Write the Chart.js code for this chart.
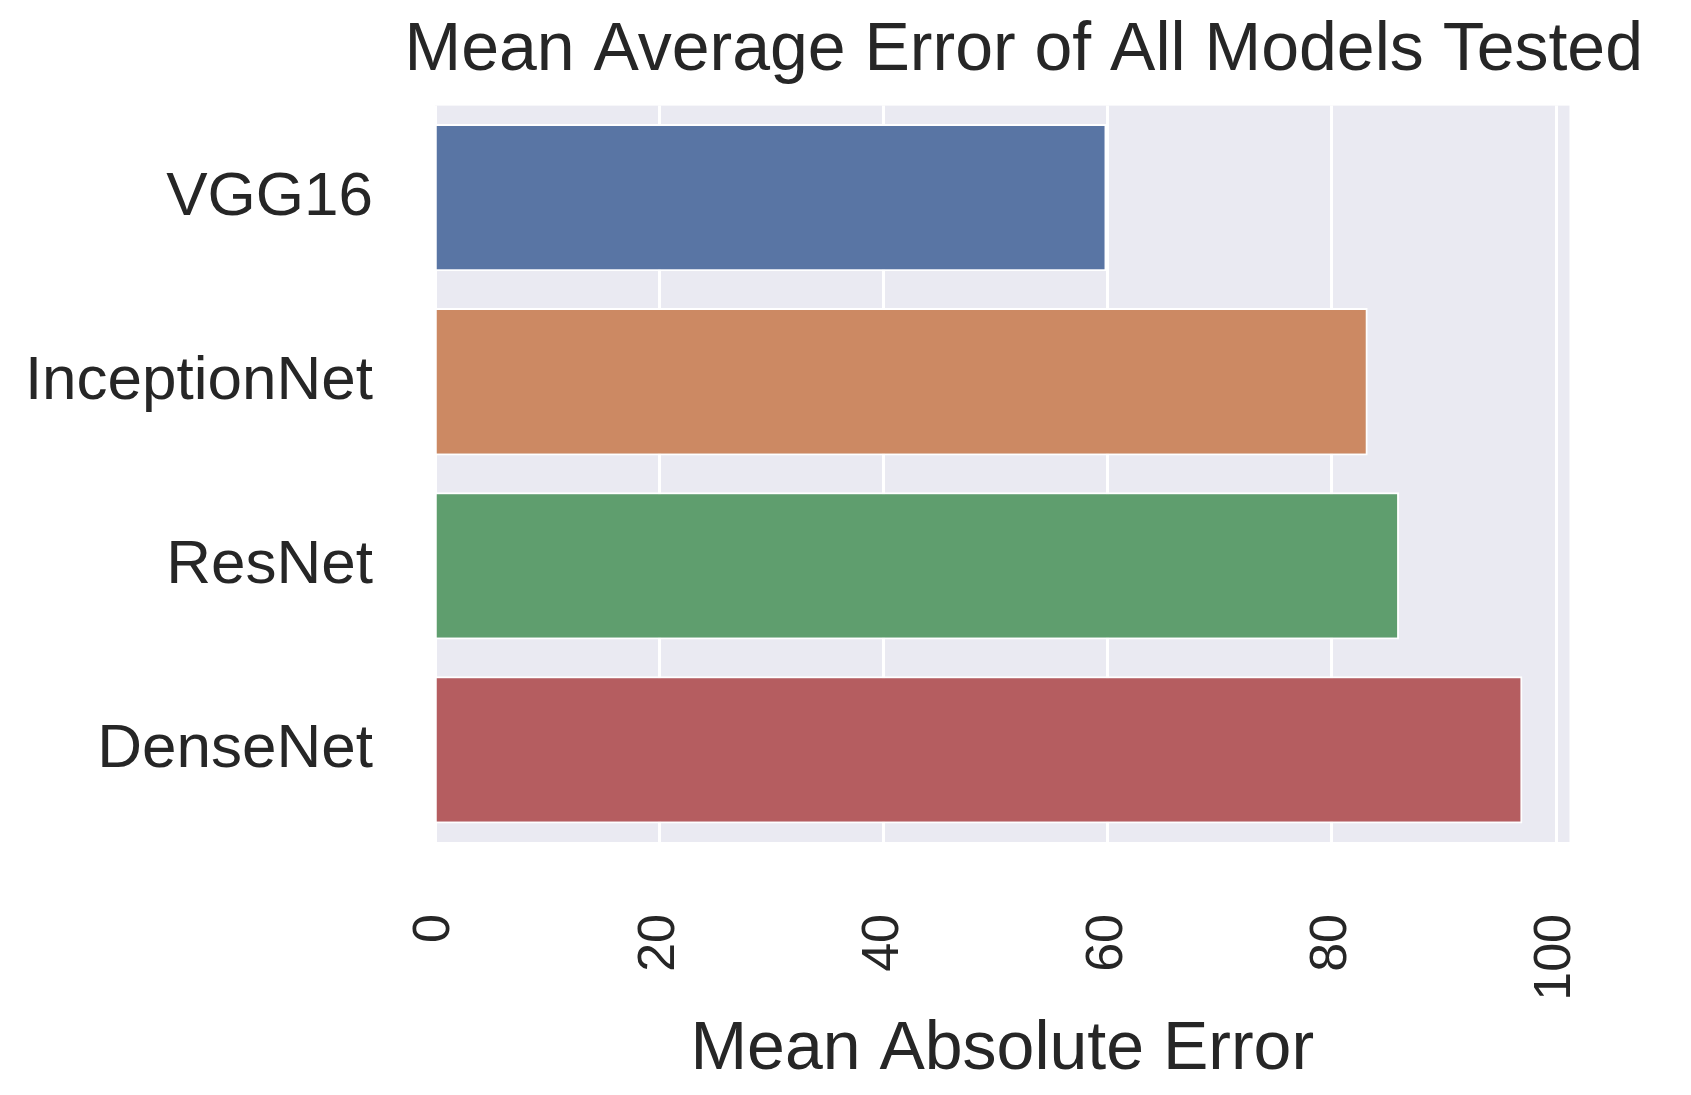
<!DOCTYPE html>
<html>
<head>
<meta charset="utf-8">
<script src="https://cdn.jsdelivr.net/npm/chart.js@4"></script>
<style>
  html, body { margin: 0; padding: 0; background: #fff; }
  #wrap { width: 1691px; height: 1095px; }
</style>
</head>
<body>
<div id="wrap"><canvas id="c"></canvas></div>
<script>
// models and their mean absolute error
const models = ["VGG16", "InceptionNet", "ResNet", "DenseNet"];
const maeValues = [59.9, 83.2, 86.0, 97.0];
const barColors = ["#5975A4", "#CC8963", "#5F9E6E", "#B55D60"];
const xTicks = [0, 20, 40, 60, 80, 100];

/* seaborn darkgrid background behind the plot */
const plotBackground = {
  id: "plotBackground",
  beforeDraw(chart) {
    const { ctx, chartArea: a } = chart;
    ctx.save();
    ctx.fillStyle = "#EAEAF2";
    ctx.fillRect(a.left, a.top, a.right - a.left, a.bottom - a.top);
    ctx.restore();
  }
};

const FONT = "'Liberation Sans', Arial, sans-serif";

new Chart(document.getElementById("c"), {
  type: "bar",
  data: {
    labels: models,
    datasets: [{
      data: maeValues,
      backgroundColor: barColors,
      borderColor: "#ffffff",
      borderWidth: 2,
      categoryPercentage: 0.8,
      barPercentage: 1.0
    }]
  },
  options: {
    indexAxis: "y",
    responsive: true,
    maintainAspectRatio: false,
    animation: false,
    layout: { padding: { left: 0, right: 48, top: 0, bottom: 0 } },
    plugins: {
      legend: { display: false },
      tooltip: { enabled: false },
      title: {
        display: true,
        align: "end",
        text: "Mean Average Error of All Models Tested",
        color: "#262626",
        font: { family: FONT, size: 68, weight: "normal" },
        padding: { top: 10, bottom: 14 }
      }
    },
    scales: {
      x: {
        min: 0,
        max: 101.2,
        afterBuildTicks(axis) { axis.ticks = xTicks.map(v => ({ value: v })); },
        afterFit(axis) { axis.height = 253; },
        grid: { color: "#ffffff", lineWidth: 3, drawTicks: false },
        border: { display: false },
        ticks: {
          minRotation: 90,
          maxRotation: 90,
          padding: 72,
          color: "#262626",
          font: { family: FONT, size: 52 }
        },
        title: {
          display: true,
          text: "Mean Absolute Error",
          color: "#262626",
          font: { family: FONT, size: 68 },
          padding: { top: 0, bottom: 4 }
        }
      },
      y: {
        afterFit(axis) { axis.width = 435; },
        grid: { display: false, drawTicks: false },
        border: { display: false },
        ticks: {
          padding: 62,
          color: "#262626",
          font: { family: FONT, size: 62 }
        }
      }
    }
  },
  plugins: [plotBackground]
});
</script>
</body>
</html>
